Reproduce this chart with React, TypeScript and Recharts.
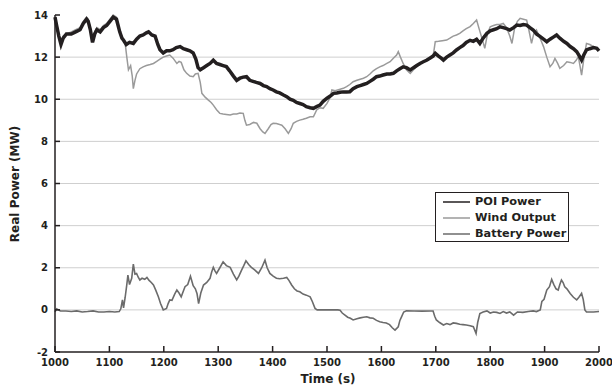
import React from "react";
import { LineChart, Line, XAxis, YAxis, CartesianGrid, Legend } from "recharts";

const FONT = "'DejaVu Sans', Verdana, sans-serif";
const INK = "#231f20";

const xTicks = [1000, 1100, 1200, 1300, 1400, 1500, 1600, 1700, 1800, 1900, 2000];
const yTicks = [-2, 0, 2, 4, 6, 8, 10, 12, 14];

// POI power (MW)
const poiTime = [
  1000, 1003, 1007, 1011, 1015, 1021, 1030, 1038, 1046, 1052, 1058, 1061, 1065, 1069, 1073, 1077, 1083, 1089, 1095, 1101,
  1107, 1113, 1116, 1119, 1123, 1126, 1131, 1137, 1144, 1150, 1156, 1162, 1168, 1172, 1178, 1184, 1189, 1193, 1199, 1205,
  1211, 1217, 1223, 1230, 1236, 1242, 1248, 1254, 1259, 1263, 1267, 1273, 1279, 1285, 1291, 1297, 1303, 1309, 1315, 1321,
  1328, 1334, 1340, 1346, 1352, 1358, 1364, 1370, 1377, 1383, 1389, 1395, 1401, 1407, 1413, 1420, 1426, 1432, 1438, 1444,
  1450, 1456, 1462, 1469, 1475, 1481, 1487, 1493, 1500, 1506, 1512, 1518, 1524, 1530, 1536, 1542, 1548, 1555, 1561, 1567,
  1573, 1579, 1585, 1591, 1597, 1603, 1610, 1616, 1622, 1628, 1634, 1640, 1646, 1653, 1659, 1665, 1671, 1677, 1683, 1689,
  1695, 1699, 1705, 1710, 1714, 1720, 1726, 1732, 1738, 1744, 1750, 1756, 1763, 1769, 1775, 1781, 1787, 1794, 1800, 1806,
  1812, 1818, 1824, 1830, 1836, 1843, 1849, 1855, 1861, 1867, 1873, 1879, 1885, 1892, 1898, 1904, 1910, 1916, 1922, 1928,
  1935, 1941, 1947, 1953, 1959, 1964, 1968, 1972, 1977, 1983, 1990, 1996, 2000,
];
const poiValues = [
  13.9, 13.5, 13.0, 12.6, 12.9, 13.1, 13.1, 13.2, 13.3, 13.6, 13.8, 13.7, 13.3, 12.7, 13.1, 13.3, 13.2, 13.4, 13.5, 13.7,
  13.9, 13.8, 13.5, 13.2, 12.9, 12.8, 12.6, 12.7, 12.65, 12.85, 13.0, 13.05, 13.15, 13.2, 13.05, 13.0, 12.6, 12.35, 12.2, 12.3,
  12.3, 12.35, 12.45, 12.5, 12.4, 12.35, 12.3, 12.2, 11.9, 11.5, 11.4, 11.5, 11.6, 11.7, 11.85, 11.7, 11.65, 11.6, 11.55, 11.35,
  11.1, 10.9, 11.0, 11.05, 11.07, 10.9, 10.85, 10.8, 10.75, 10.65, 10.6, 10.5, 10.44, 10.35, 10.3, 10.2, 10.12, 10.0, 9.95, 9.85,
  9.8, 9.75, 9.65, 9.6, 9.57, 9.65, 9.72, 9.9, 10.05, 10.15, 10.28, 10.3, 10.33, 10.35, 10.35, 10.36, 10.5, 10.6, 10.65, 10.7,
  10.75, 10.85, 10.95, 11.07, 11.1, 11.15, 11.2, 11.2, 11.23, 11.35, 11.45, 11.54, 11.5, 11.39, 11.5, 11.6, 11.7, 11.78, 11.85, 11.95,
  12.05, 12.18, 12.05, 11.95, 11.86, 12.0, 12.1, 12.2, 12.34, 12.45, 12.55, 12.7, 12.8, 12.75, 12.85, 12.65, 12.9, 13.13, 13.25, 13.3,
  13.35, 13.44, 13.4, 13.35, 13.29, 13.4, 13.52, 13.5, 13.55, 13.52, 13.4, 13.29, 13.1, 12.97, 12.85, 12.73, 12.85, 12.95, 13.05, 12.9,
  12.75, 12.65, 12.5, 12.4, 12.26, 12.05, 11.86, 12.1, 12.34, 12.4, 12.45, 12.42, 12.3,
];

// Wind output (MW)
const windTime = [
  1000, 1003, 1007, 1011, 1015, 1021, 1030, 1038, 1046, 1052, 1058, 1061, 1065, 1069, 1073, 1077, 1083, 1089, 1095, 1101,
  1107, 1113, 1116, 1119, 1124, 1129, 1132, 1135, 1139, 1142, 1144, 1147, 1150, 1156, 1162, 1168, 1175, 1181, 1187, 1193,
  1199, 1205, 1211, 1217, 1224, 1228, 1232, 1237, 1242, 1248, 1254, 1258, 1263, 1267, 1270, 1276, 1282, 1287, 1291, 1297,
  1303, 1309, 1315, 1322, 1328, 1334, 1340, 1346, 1349, 1352, 1358, 1365, 1371, 1377, 1382, 1386, 1392, 1397, 1401, 1407,
  1413, 1417, 1423, 1429, 1434, 1438, 1444, 1450, 1456, 1462, 1469, 1475, 1481, 1487, 1493, 1500, 1506, 1509, 1515, 1521,
  1527, 1530, 1536, 1542, 1548, 1555, 1561, 1567, 1573, 1579, 1585, 1591, 1597, 1603, 1610, 1616, 1622, 1628, 1631, 1635,
  1640, 1646, 1653, 1659, 1665, 1671, 1677, 1683, 1689, 1695, 1699, 1705, 1712, 1720, 1726, 1732, 1738, 1744, 1750, 1756,
  1763, 1769, 1775, 1779, 1784, 1787, 1790, 1795, 1800, 1806, 1812, 1818, 1824, 1830, 1836, 1840, 1845, 1850, 1855, 1861,
  1867, 1871, 1876, 1880, 1885, 1890, 1894, 1898, 1904, 1910, 1915, 1919, 1924, 1928, 1935, 1941, 1947, 1953, 1958, 1962,
  1965, 1968, 1972, 1977, 1983, 1990, 1996, 2000,
];
const windValues = [
  13.9, 13.6, 13.1, 12.7, 13.0, 13.1, 13.2, 13.3, 13.4, 13.7, 13.9, 13.8, 13.4, 12.8, 13.2, 13.4, 13.3, 13.5, 13.6, 13.8,
  14.0, 13.9, 13.6, 13.2, 12.9, 12.65, 12.0, 11.4, 11.6, 11.1, 10.5, 10.9, 11.2, 11.45, 11.54, 11.6, 11.65, 11.7, 11.8, 11.9,
  12.0, 12.05, 12.1, 11.95, 11.7, 11.8, 11.75, 11.4, 11.23, 11.1, 11.07, 11.2, 11.23, 10.8, 10.28, 10.1, 9.96, 9.85, 9.72, 9.5,
  9.33, 9.3, 9.28, 9.25, 9.3, 9.3, 9.35, 9.33, 9.0, 8.77, 8.8, 8.9, 8.86, 8.6, 8.45, 8.38, 8.6, 8.8, 8.86, 8.85,
  8.8, 8.77, 8.6, 8.38, 8.6, 8.86, 8.95, 9.01, 9.05, 9.1, 9.17, 9.17, 9.49, 9.6, 9.57, 9.8, 10.1, 10.44, 10.4, 10.45,
  10.5, 10.52, 10.6, 10.7, 10.83, 10.9, 10.95, 11.0, 11.07, 11.2, 11.35, 11.45, 11.54, 11.6, 11.7, 11.78, 11.95, 12.1, 12.26, 12.0,
  11.7, 11.4, 11.23, 11.4, 11.55, 11.7, 11.8, 11.85, 11.95, 12.02, 12.73, 12.75, 12.78, 12.81, 12.9, 13.0, 13.05, 13.13, 13.25, 13.35,
  13.45, 13.6, 13.76, 13.4, 12.97, 12.7, 12.42, 13.1, 13.44, 13.5, 13.55, 13.55, 13.6, 13.4, 13.0, 12.65, 13.4, 13.7, 13.84, 13.8,
  13.76, 13.3, 12.65, 13.1, 13.29, 13.0, 12.75, 12.5, 12.0, 11.54, 11.7, 11.94, 11.7, 11.47, 11.6, 11.78, 11.75, 11.7, 11.85, 12.02,
  11.6, 11.15, 11.9, 12.65, 12.6, 12.5, 12.4, 12.3,
];

// Battery power (MW)
const batteryTime = [
  1000, 1003, 1010, 1020, 1030, 1040, 1050, 1060, 1070, 1080, 1090, 1100, 1110, 1118, 1121, 1124, 1126, 1129, 1132, 1134,
  1137, 1141, 1144, 1147, 1150, 1153, 1156, 1160, 1165, 1169, 1173, 1177, 1181, 1185, 1190, 1194, 1199, 1205, 1208, 1211,
  1215, 1220, 1224, 1228, 1232, 1236, 1239, 1244, 1249, 1254, 1258, 1261, 1264, 1268, 1273, 1279, 1285, 1288, 1291, 1294,
  1297, 1303, 1309, 1315, 1322, 1328, 1334, 1338, 1343, 1347, 1351, 1356, 1361, 1367, 1374, 1380, 1386, 1390, 1395, 1401,
  1407, 1413, 1420, 1426, 1430, 1435, 1440, 1445, 1450, 1456, 1462, 1469, 1473, 1478, 1482, 1500, 1520, 1524, 1528, 1533,
  1538, 1543, 1548, 1555, 1561, 1567, 1573, 1579, 1585, 1591, 1597, 1603, 1609, 1615, 1620, 1625, 1631, 1634, 1637, 1641,
  1646, 1660, 1675, 1690, 1695, 1698, 1701, 1707, 1714, 1720, 1726, 1732, 1738, 1744, 1750, 1756, 1763, 1769, 1774, 1777,
  1781, 1787, 1794, 1800, 1806, 1812, 1818, 1824, 1830, 1836, 1843, 1850, 1860, 1870, 1879, 1885, 1892, 1895, 1899, 1904,
  1909, 1913, 1917, 1921, 1925, 1928, 1931, 1934, 1937, 1941, 1947, 1953, 1959, 1963, 1968, 1971, 1974, 1977, 1990, 2000,
];
const batteryValues = [
  -0.1, 0.05, -0.05, -0.05, -0.08, -0.05, -0.1, -0.08, -0.05, -0.1, -0.1, -0.08, -0.1, -0.08, 0.05, 0.47, 0.1, 0.6, 1.2, 1.65,
  1.2, 1.5, 2.17, 1.7, 1.73, 1.55, 1.42, 1.5, 1.45, 1.54, 1.4, 1.3, 1.18, 0.95, 0.62, 0.3, 0.0, 0.07, 0.3, 0.47,
  0.45, 0.75, 0.94, 0.8, 0.62, 0.9, 1.1, 1.2, 1.6, 1.15, 1.0, 0.78, 0.3, 0.8, 1.18, 1.3, 1.5, 1.8, 2.02, 1.85,
  1.73, 2.0, 2.28, 2.1, 2.02, 1.7, 1.42, 1.6, 1.89, 2.1, 2.33, 2.15, 2.02, 1.9, 1.73, 2.0, 2.36, 2.0, 1.73, 1.6,
  1.5, 1.48, 1.5, 1.54, 1.4, 1.18, 1.0, 0.9, 0.86, 0.75, 0.7, 0.62, 0.4, 0.07, 0.0, 0.0, 0.0, -0.02, -0.15, -0.25,
  -0.35, -0.4, -0.48, -0.42, -0.38, -0.35, -0.33, -0.38, -0.4, -0.5, -0.56, -0.6, -0.62, -0.7, -0.85, -0.96, -0.8, -0.5, -0.33, -0.1,
  -0.04, -0.05, -0.06, -0.05, -0.05, -0.3, -0.48, -0.6, -0.72, -0.65, -0.7, -0.62, -0.64, -0.68, -0.7, -0.72, -0.75, -0.8, -1.12, -0.6,
  -0.17, -0.1, -0.05, -0.15, -0.1, -0.12, -0.17, -0.08, -0.15, -0.1, -0.25, -0.1, -0.12, -0.08, -0.05, -0.08, 0.0, 0.4, 0.5, 0.94,
  1.1, 1.45, 1.2, 1.0, 0.94, 1.2, 1.42, 1.3, 1.1, 1.0, 0.78, 0.6, 0.47, 0.6, 0.78, 0.5, 0.0, -0.1, -0.1, -0.08,
];

const zip = (ts: number[], vs: number[]) => ts.map((t, i) => ({ t, v: vs[i] }));

const SERIES = [
  { name: "POI Power", color: "#231f20" },
  { name: "Wind Output", color: "#9a9a9a" },
  { name: "Battery Power", color: "#6b6b6b" },
];

const LegendBox = () => (
  <div
    style={{
      width: 134,
      height: 50,
      boxSizing: "border-box",
      border: `1px solid ${INK}`,
      background: "#fff",
      paddingTop: 1,
      fontFamily: FONT,
      fontWeight: "bold",
      fontSize: 11.3,
      color: INK,
      whiteSpace: "nowrap",
    }}
  >
    {SERIES.map((s) => (
      <div key={s.name} style={{ display: "flex", alignItems: "center", height: 16, lineHeight: "16px" }}>
        <svg width={39} height={16} style={{ flex: "none" }}>
          <line x1={7} x2={34} y1={8} y2={8} stroke={s.color} strokeWidth={1.5} />
        </svg>
        <span>{s.name}</span>
      </div>
    ))}
  </div>
);

const YTitle = () => (
  <text
    x={15}
    y={184}
    transform="rotate(-90 15 184)"
    textAnchor="middle"
    dominantBaseline="central"
    fontFamily={FONT}
    fontWeight="bold"
    fontSize={12}
    fill={INK}
  >
    Real Power (MW)
  </text>
);

const XTitle = () => (
  <text x={328} y={383} textAnchor="middle" fontFamily={FONT} fontWeight="bold" fontSize={12} fill={INK}>
    Time (s)
  </text>
);

export default function App() {
  const poi = zip(poiTime, poiValues);
  const wind = zip(windTime, windValues);
  const battery = zip(batteryTime, batteryValues);
  const tickStyle = { fontFamily: FONT, fontWeight: "bold", fontSize: 10, fill: INK };

  return (
    <div style={{ position: "absolute", left: 0, top: 0, background: "#fff" }}>
      <LineChart width={612} height={387} margin={{ top: 15, right: 13, bottom: 0, left: 25 }}>
        <CartesianGrid vertical={false} stroke="#cfcfcf" horizontalValues={[0, 2, 4, 6, 8, 10, 12]} />
        <XAxis
          dataKey="t"
          type="number"
          domain={[1000, 2000]}
          ticks={xTicks}
          height={35}
          stroke={INK}
          strokeWidth={1.5}
          tickSize={-6}
          tickMargin={13}
          tick={tickStyle}
          interval={0}
          label={<XTitle />}
        />
        <XAxis
          xAxisId="top"
          orientation="top"
          type="number"
          domain={[1000, 2000]}
          ticks={xTicks}
          height={0}
          stroke={INK}
          strokeWidth={1.5}
          tickSize={-5}
          tick={false}
        />
        <YAxis
          type="number"
          domain={[-2, 14]}
          ticks={yTicks}
          width={30}
          stroke={INK}
          strokeWidth={1.5}
          tickSize={-5}
          tickMargin={12}
          tick={tickStyle}
          interval={0}
          label={<YTitle />}
        />
        <YAxis
          yAxisId="right"
          orientation="right"
          type="number"
          domain={[-2, 14]}
          ticks={yTicks}
          width={0}
          stroke={INK}
          strokeWidth={1.5}
          tickSize={-4}
          tick={false}
        />
        <Line data={wind} dataKey="v" name="Wind Output" stroke={SERIES[1].color} strokeWidth={1.5} dot={false} isAnimationActive={false} />
        <Line data={poi} dataKey="v" name="POI Power" stroke={SERIES[0].color} strokeWidth={3.5} dot={false} isAnimationActive={false} />
        <Line data={battery} dataKey="v" name="Battery Power" stroke={SERIES[2].color} strokeWidth={1.6} dot={false} isAnimationActive={false} />
        <Legend
          layout="vertical"
          align="center"
          verticalAlign="middle"
          content={<LegendBox />}
          wrapperStyle={{ left: 435, top: 192, width: 134, height: 50 }}
        />
      </LineChart>
    </div>
  );
}
